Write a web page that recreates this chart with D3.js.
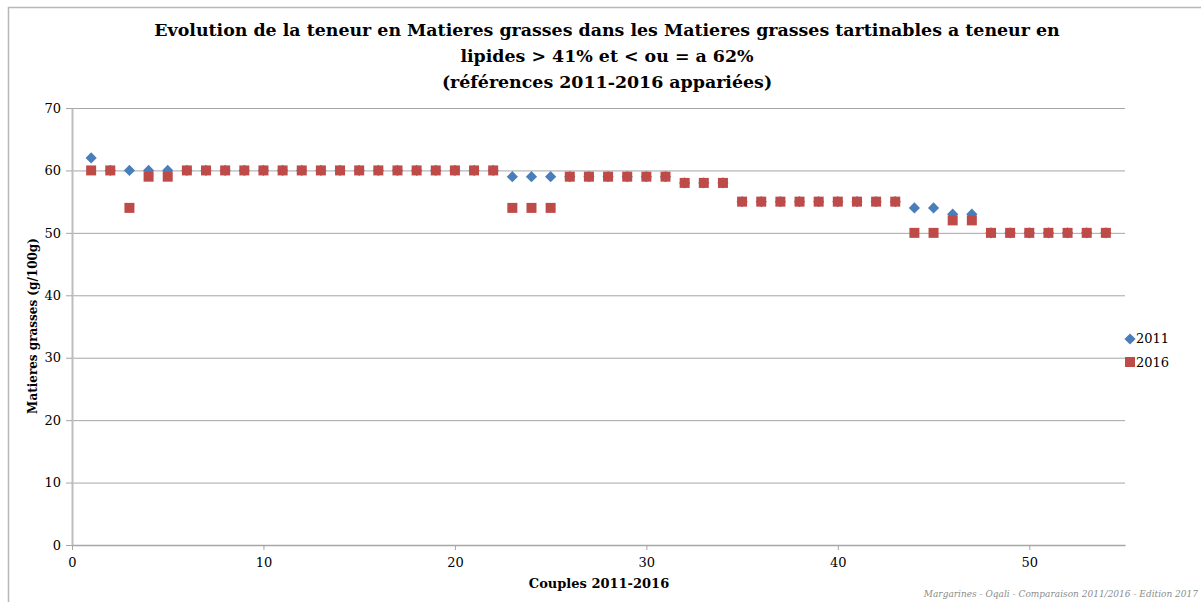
<!DOCTYPE html>
<html>
<head>
<meta charset="utf-8">
<script src="https://cdn.jsdelivr.net/npm/d3@7"></script>
<style>
  body { margin: 0; background: #fff; }
  text { font-family: "DejaVu Serif", "Liberation Serif", serif; }
</style>
</head>
<body>
<div id="chart"></div>
<script>
const couples = d3.range(1, 55);
const values2011 = [62, 60, 60, 60, 60, 60, 60, 60, 60, 60, 60, 60, 60, 60, 60, 60, 60, 60, 60, 60, 60, 60,
  59, 59, 59, 59, 59, 59, 59, 59, 59, 58, 58, 58, 55, 55, 55, 55, 55, 55, 55, 55, 55,
  54, 54, 53, 53, 50, 50, 50, 50, 50, 50, 50];
const values2016 = [60, 60, 54, 59, 59, 60, 60, 60, 60, 60, 60, 60, 60, 60, 60, 60, 60, 60, 60, 60, 60, 60,
  54, 54, 54, 59, 59, 59, 59, 59, 59, 58, 58, 58, 55, 55, 55, 55, 55, 55, 55, 55, 55,
  50, 50, 52, 52, 50, 50, 50, 50, 50, 50, 50];
const xTicks = [0, 10, 20, 30, 40, 50];
const yTicks = [0, 10, 20, 30, 40, 50, 60, 70];
const titleLines = [
  "Evolution de la teneur en Matieres grasses dans les Matieres grasses tartinables a teneur en",
  "lipides > 41% et < ou = a 62%",
  "(références 2011-2016 appariées)"
];

const width = 1203, height = 602;
const svg = d3.select("#chart").append("svg")
  .attr("width", width)
  .attr("height", height);

// frame
svg.append("path")
  .attr("d", "M8.5,602 L8.5,7.5 L1201,7.5")
  .style("fill", "none")
  .style("stroke", "#b8b8b8")
  .style("stroke-width", 1.5);

const x = d3.scaleLinear().domain([0, 55]).range([72, 1125]);
const y = d3.scaleLinear().domain([0, 70]).range([545, 108]);

// gridlines
svg.append("g")
  .selectAll("line")
  .data(yTicks)
  .enter().append("line")
  .attr("x1", x(0)).attr("x2", x(55))
  .attr("y1", d => y(d) + 0.5).attr("y2", d => y(d) + 0.5)
  .style("stroke", "#a6a6a6")
  .style("stroke-width", 1);

const yAxis = svg.append("g")
  .attr("transform", `translate(${x(0)},0)`)
  .call(d3.axisLeft(y).tickValues(yTicks).tickSize(6).tickPadding(5).tickSizeOuter(0));
yAxis.select(".domain").style("stroke", "#bdbdbd").style("stroke-width", 2);
yAxis.selectAll(".tick line").style("stroke", "#a6a6a6");
yAxis.selectAll("text").style("font-size", "13px").style("fill", "#000");

const xAxis = svg.append("g")
  .attr("transform", `translate(0,${y(0)})`)
  .call(d3.axisBottom(x).tickValues(xTicks).tickSize(5).tickPadding(8).tickSizeOuter(0));
xAxis.select(".domain").style("stroke", "#a6a6a6").style("stroke-width", 1.5);
xAxis.selectAll(".tick line").style("stroke", "#a6a6a6");
xAxis.selectAll("text").style("font-size", "13px").style("fill", "#000");

// title
svg.append("text")
  .attr("x", 607)
  .attr("y", 36)
  .style("text-anchor", "middle")
  .style("font-size", "17.4px")
  .style("font-weight", "bold")
  .selectAll("tspan")
  .data(titleLines)
  .enter().append("tspan")
  .attr("x", 607)
  .attr("dy", (d, i) => i === 0 ? 0 : 26)
  .text(d => d);

// axis titles
svg.append("text")
  .attr("transform", "translate(37, 326) rotate(-90)")
  .style("text-anchor", "middle")
  .style("font-size", "12px")
  .style("font-weight", "bold")
  .text("Matieres grasses (g/100g)");

svg.append("text")
  .attr("x", 599)
  .attr("y", 588)
  .style("text-anchor", "middle")
  .style("font-size", "13px")
  .style("font-weight", "bold")
  .text("Couples 2011-2016");

// series 2011 (diamonds) then 2016 (squares) on top
const diamond = d3.symbol().type(d3.symbolDiamond2).size(80);
svg.append("g")
  .selectAll("path")
  .data(couples)
  .enter().append("path")
  .attr("d", diamond)
  .attr("transform", (d, i) => `translate(${x(d)},${y(values2011[i])})`)
  .style("fill", "#4a7ebb");

svg.append("g")
  .selectAll("rect")
  .data(couples)
  .enter().append("rect")
  .attr("x", d => x(d) - 5)
  .attr("y", (d, i) => y(values2016[i]) - 5)
  .attr("width", 10)
  .attr("height", 10)
  .style("fill", "#be4b48");

// legend
const legend = svg.append("g").attr("transform", "translate(1128, 0)");
legend.append("path")
  .attr("d", diamond)
  .attr("transform", "translate(2, 339)")
  .style("fill", "#4a7ebb");
legend.append("text").attr("x", 8).attr("y", 343)
  .style("font-size", "13px").text("2011");
legend.append("rect")
  .attr("x", -3).attr("y", 357).attr("width", 10).attr("height", 10)
  .style("fill", "#be4b48");
legend.append("text").attr("x", 8).attr("y", 367)
  .style("font-size", "13px").text("2016");

// footnote
svg.append("text")
  .attr("x", 1198)
  .attr("y", 597)
  .style("text-anchor", "end")
  .style("font-size", "9px")
  .style("font-style", "italic")
  .style("fill", "#8c8c8c")
  .text("Margarines - Oqali - Comparaison 2011/2016 - Edition 2017");
</script>
</body>
</html>
